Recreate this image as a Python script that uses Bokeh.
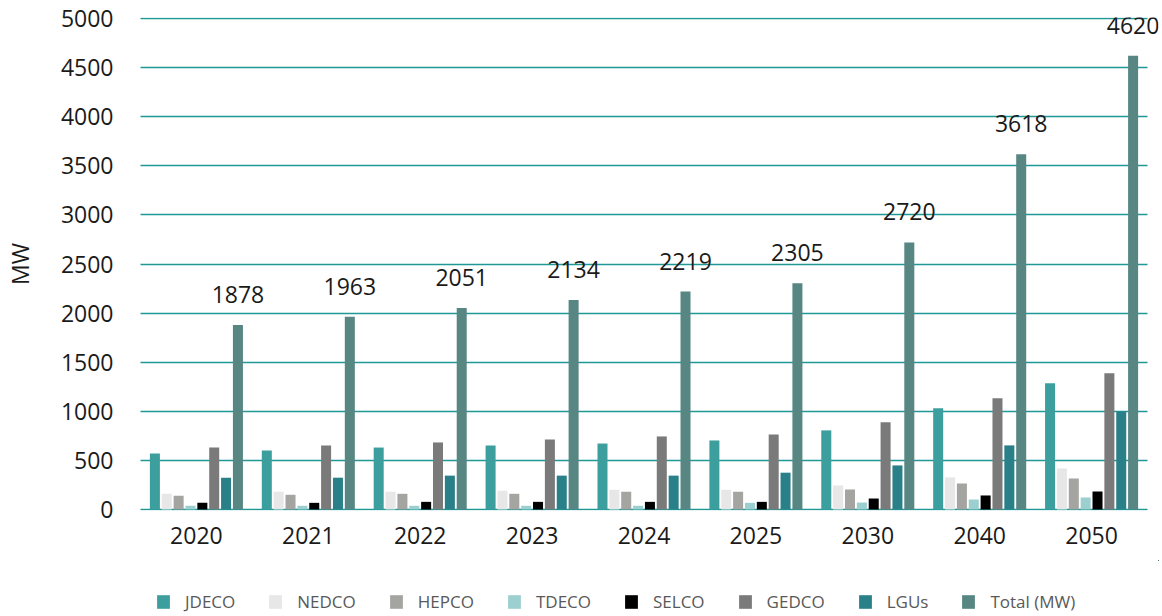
from bokeh.plotting import figure
from bokeh.layouts import column
from bokeh.models import (FactorRange, ColumnDataSource, Legend, LegendItem, LabelSet,
                          FixedTicker, Range1d)
from bokeh.core.properties import value
from bokeh.transform import dodge
from bokeh.embed import file_html
from bokeh.resources import INLINE

years = ["2020", "2021", "2022", "2023", "2024", "2025", "2030", "2040", "2050"]
series = ["JDECO", "NEDCO", "HEPCO", "TDECO", "SELCO", "GEDCO", "LGUs", "Total (MW)"]
jdeco = [570, 601, 631, 652, 672, 703, 806, 1031, 1286]
nedco = [160, 181, 181, 191, 201, 201, 245, 327, 418]
hepco = [140, 150, 160, 160, 181, 181, 204, 265, 316]
tdeco = [38, 38, 38, 38, 38, 68, 71, 102, 122]
selco = [68, 68, 78, 78, 78, 78, 112, 143, 184]
gedco = [631, 652, 683, 713, 744, 764, 888, 1133, 1388]
lgus = [324, 324, 345, 345, 345, 375, 449, 653, 997]
total = [1878, 1963, 2051, 2134, 2219, 2305, 2720, 3618, 4620]
colors = ["#3c9f9d", "#e7e7e7", "#a4a4a0", "#9ccfcf", "#000000", "#7a7a7a", "#2a8088", "#578683"]

values = [jdeco, nedco, hepco, tdeco, selco, gedco, lgus, total]
keys = ["s%d" % i for i in range(len(series))]
data = {"year": years}
for k, v in zip(keys, values):
    data[k] = v
data["label"] = [str(t) for t in total]
source = ColumnDataSource(data)

FONT = "Open Sans"
p = figure(width=1162, height=560,
           x_range=FactorRange(*years, range_padding=0.098, range_padding_units="absolute"),
           y_range=Range1d(-10, 5010), output_backend="svg", toolbar_location=None,
           min_border_left=129, min_border_right=4, min_border_top=17, min_border_bottom=50)

step = 0.106
bw = 0.0895
for i, (k, c) in enumerate(zip(keys, colors)):
    off = (i - 3.5) * step
    p.vbar(x=dodge("year", off, range=p.x_range), top=k, bottom=0, width=bw,
           source=source, fill_color=c, line_color=None)

labels = LabelSet(x=dodge("year", 3.5 * step, range=p.x_range), y="s7", text="label",
                  source=source, text_align="center", text_baseline="alphabetic",
                  y_offset=22, text_font=value(FONT), text_font_size="23px",
                  text_color="#1a1a1a")
p.add_layout(labels)

p.outline_line_color = None
p.xgrid.grid_line_color = None
p.ygrid.grid_line_color = "#1f9896"
p.ygrid.grid_line_width = 1.6
p.ygrid.cross_bounds = (0, len(years))
p.yaxis.ticker = FixedTicker(ticks=list(range(0, 5001, 500)))
p.yaxis.axis_line_color = None
p.yaxis.major_tick_line_color = None
p.yaxis.minor_tick_line_color = None
p.yaxis.major_label_standoff = 10
p.yaxis.major_label_text_font = FONT
p.yaxis.major_label_text_font_size = "23px"
p.yaxis.major_label_text_color = "#1a1a1a"
p.yaxis.axis_label = "MW"
p.yaxis.axis_label_text_font = FONT
p.yaxis.axis_label_text_font_size = "23px"
p.yaxis.axis_label_text_font_style = "normal"
p.yaxis.axis_label_text_color = "#1a1a1a"
p.yaxis.axis_label_standoff = 22

p.xaxis.axis_line_color = None
p.xaxis.major_tick_line_color = None
p.xaxis.minor_tick_line_color = None
p.xaxis.major_label_standoff = 10
p.xaxis.major_label_text_font = FONT
p.xaxis.major_label_text_font_size = "23px"
p.xaxis.major_label_text_color = "#1a1a1a"

# legend strip below the chart (its zero-width bars sit far outside its frame)
lg = figure(width=1162, height=56, x_range=FactorRange(*years), y_range=Range1d(-20, -10),
            output_backend="svg", toolbar_location=None, x_axis_location=None,
            y_axis_location=None, min_border=0, outline_line_color=None)
lg.grid.grid_line_color = None
items = []
for k, name, c in zip(keys, series, colors):
    r = lg.vbar(x=dodge("year", 100, range=lg.x_range), top=k, bottom=0, width=0,
                source=source, fill_color=c, line_color=None)
    items.append(LegendItem(label=name, renderers=[r]))
legend = Legend(items=items, orientation="horizontal", location=(26, 3), nrows=1,
                glyph_width=16, glyph_height=17, label_standoff=14, spacing=32,
                padding=0, margin=0, border_line_color=None, background_fill_alpha=0,
                label_text_font=FONT, label_text_font_size="17px",
                label_text_color="#595959", label_height=17)
lg.add_layout(legend)

layout = column(p, lg, spacing=0)
open("out.html", "w").write(file_html(layout, INLINE))
